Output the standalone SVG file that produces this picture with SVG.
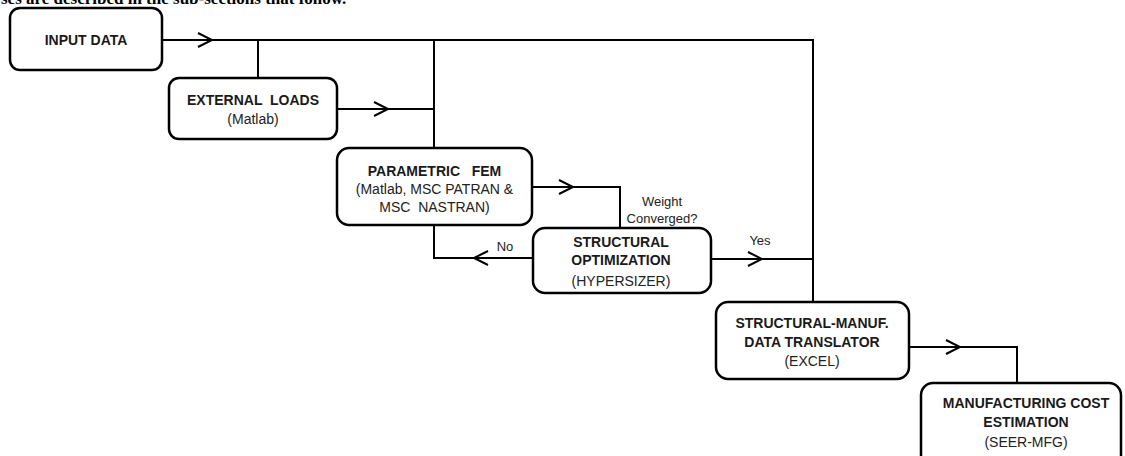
<svg xmlns="http://www.w3.org/2000/svg" width="1125" height="456" viewBox="0 0 1125 456">
<style>
.box{fill:#fff;stroke:#000;stroke-width:2.5}
.ln{fill:none;stroke:#000;stroke-width:2}
.t{font-family:"Liberation Sans",Arial,sans-serif;font-size:14px;font-weight:bold;fill:#1a1a1a;text-anchor:middle}
.s{font-family:"Liberation Sans",Arial,sans-serif;font-size:14px;fill:#222;text-anchor:middle}
.l{font-family:"Liberation Sans",Arial,sans-serif;font-size:13px;fill:#222;text-anchor:middle}
.top{font-family:"Liberation Serif","Times New Roman",serif;font-size:17px;font-weight:bold;fill:#000}
</style>
<rect width="1125" height="456" fill="#fff"/>
<text class="top" x="1" y="4">ses are described in the sub-sections that follow.</text>
<g id="connectors">
<path class="ln" d="M162 40 H813 V302"/>
<path class="ln" d="M198 33 L212 40 L198 47"/>
<path class="ln" d="M258 40 V78"/>
<path class="ln" d="M434 40 V148"/>
<path class="ln" d="M337 109 H434"/>
<path class="ln" d="M374 102 L388 109 L374 116"/>
<path class="ln" d="M532 187 H620 V228"/>
<path class="ln" d="M559 180 L573 187 L559 194"/>
<path class="ln" d="M434 225 V258 H533"/>
<path class="ln" d="M488 251 L474 258 L488 265"/>
<path class="ln" d="M711 259 H813"/>
<path class="ln" d="M748 252 L762 259 L748 266"/>
<path class="ln" d="M909 347 H1017 V383"/>
<path class="ln" d="M946 340 L960 347 L946 354"/>
<text class="l" x="662" y="206">Weight</text>
<text class="l" x="662" y="223">Converged?</text>
<text class="l" x="505" y="251">No</text>
<text class="l" x="760" y="245">Yes</text>
</g>
<g id="input-data">
<rect class="box" x="10" y="8" width="152" height="62" rx="10"/>
<text class="t" x="86" y="45">INPUT DATA</text>
</g>
<g id="external-loads">
<rect class="box" x="169" y="78" width="168" height="61" rx="10"/>
<text class="t" x="253" y="105" xml:space="preserve">EXTERNAL  LOADS</text>
<text class="s" x="253" y="124">(Matlab)</text>
</g>
<g id="parametric-fem">
<rect class="box" x="337" y="148" width="195" height="77" rx="12"/>
<text class="t" x="434.5" y="176" xml:space="preserve">PARAMETRIC   FEM</text>
<text class="s" x="434.5" y="194">(Matlab, MSC PATRAN &amp;</text>
<text class="s" x="434.5" y="212" xml:space="preserve">MSC  NASTRAN)</text>
</g>
<g id="structural-optimization">
<rect class="box" x="533" y="228" width="178" height="65" rx="12"/>
<text class="t" x="621" y="247">STRUCTURAL</text>
<text class="t" x="621" y="265">OPTIMIZATION</text>
<text class="s" x="621" y="286">(HYPERSIZER)</text>
</g>
<g id="data-translator">
<rect class="box" x="716" y="302" width="193" height="77" rx="12"/>
<text class="t" x="812" y="328">STRUCTURAL-MANUF.</text>
<text class="t" x="812" y="347">DATA TRANSLATOR</text>
<text class="s" x="812" y="366">(EXCEL)</text>
</g>
<g id="manufacturing-cost">
<rect class="box" x="921" y="383" width="200" height="85" rx="12"/>
<text class="t" x="1026" y="408">MANUFACTURING COST</text>
<text class="t" x="1026" y="427">ESTIMATION</text>
<text class="s" x="1026" y="447">(SEER-MFG)</text>
</g>
</svg>
